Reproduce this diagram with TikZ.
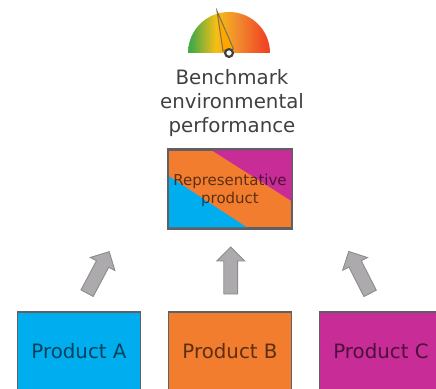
\documentclass[tikz,border=0pt]{standalone}
\usepackage{fontspec}
\setmainfont{DejaVu Sans}
\usetikzlibrary{positioning, shapes.arrows, calc}
\definecolor{prodA}{RGB}{0,174,239}
\definecolor{prodB}{RGB}{242,125,47}
\definecolor{prodC}{RGB}{200,44,150}
\definecolor{edgegray}{RGB}{95,95,100}
\definecolor{arrowgray}{RGB}{172,170,172}
\definecolor{gaugeG}{RGB}{70,170,70}
\definecolor{gaugeY}{RGB}{248,190,20}
\definecolor{gaugeO}{RGB}{240,140,45}
\definecolor{gaugeR}{RGB}{240,70,35}
\pgfdeclarehorizontalshading{gaugeshade}{100bp}{
	color(0bp)=(gaugeG);
	color(27bp)=(gaugeG);
	color(42bp)=(gaugeY);
	color(55bp)=(gaugeO);
	color(72bp)=(gaugeR);
	color(100bp)=(gaugeR)
}
\tikzset{
	prodbox/.style={draw=edgegray, line width=1.6pt, minimum width=123pt, minimum height=100pt, inner sep=0pt},
	prodlabel/.style={text=black, text opacity=0.62, font=\fontsize{19.8}{24}\selectfont},
	uparrow/.style={single arrow, draw=black!45, fill=arrowgray, line width=0.9pt, minimum height=47pt, minimum width=27pt, single arrow head extend=7pt, single arrow tip angle=90, inner sep=6.5pt},
}
\begin{document}
\begin{tikzpicture}[x=1pt, y=1pt]
	\useasboundingbox (0, 0) rectangle (436, 388);
	\clip (0, 0) rectangle (436, 388);
	% gauge
	\shade[shading=gaugeshade] (188, 335) arc (180:0:41) -- cycle;
	\draw[fill=orange!70!yellow, draw=black!60!yellow, line width=1pt] (217, 377) -- (233.5, 339) -- (223, 337) -- cycle;
	\draw[black!75, fill=white, line width=2.2pt] (229, 335) circle (3.9);
	\node[align=center, text=black!75, font=\fontsize{19.8}{24}\selectfont] (bench) at (232, 285) {Benchmark\\environmental\\performance};
	% representative product
	\node[prodbox, fill=prodB, minimum height=78pt] (rep) at (230, 199) {};
	\fill[prodC] (212, 237.5) -- (291.5, 237.5) -- (291.5, 187) -- cycle;
	\fill[prodA] (168.5, 212) -- (247, 160.5) -- (168.5, 160.5) -- cycle;
	\draw[edgegray, line width=1.6pt] (rep.south west) rectangle (rep.north east);
	\node[align=center, prodlabel, font=\fontsize{15}{18}\selectfont] (replabel) at (230, 197.5) {Representative\\product};
	% products
	\node[prodbox, fill=prodA, anchor=north] (prodA) at (79, 77) {};
	\node[prodbox, fill=prodB, anchor=north] (prodB) at (230, 77) {};
	\node[prodbox, fill=prodC, anchor=north] (prodC) at (381, 77) {};
	\node[prodlabel] (labelA) at (79, 37) {Product A};
	\node[prodlabel] (labelB) at (230, 37) {Product B};
	\node[prodlabel] (labelC) at (381, 37) {Product C};
	% arrows
	\node[uparrow, rotate=62] (arrowA) at (96.5, 112.5) {};
	\node[uparrow, rotate=90] (arrowB) at (230.7, 114) {};
	\node[uparrow, rotate=117] (arrowC) at (361, 112.5) {};
\end{tikzpicture}
\end{document}
